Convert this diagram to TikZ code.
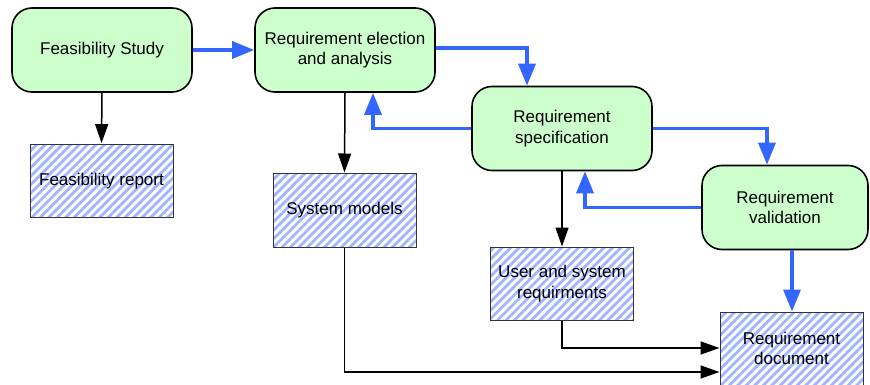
\documentclass[tikz,border=0pt]{standalone}
\usepackage{fontspec}
\setmainfont{Liberation Sans}
\usetikzlibrary{patterns.meta,arrows.meta}
\definecolor{boxgreen}{HTML}{CCFFCC}
\definecolor{flowblue}{HTML}{3366FF}
\definecolor{hatchblue}{HTML}{9FB5FF}
\tikzset{
  process/.style={draw=black,line width=1.6pt,fill=boxgreen,rounded corners=20pt,
    minimum width=180pt,minimum height=84pt,align=center,inner sep=0pt,
    font=\fontsize{17}{20.5}\selectfont},
  docbox/.style={draw=black!80,line width=1pt,
    pattern={Lines[angle=45,distance=6pt,line width=2.8pt]},pattern color=hatchblue,
    minimum width=143pt,minimum height=73pt,align=center,inner sep=0pt,
    font=\fontsize{17}{20.5}\selectfont},
  bluearrow/.style={draw=flowblue,line width=3.4pt,-{Triangle[length=22pt,width=17pt]}},
  blackarrow/.style={draw=black,line width=1.5pt,-{Triangle[length=19pt,width=13pt]}}
}
\begin{document}
\begin{tikzpicture}[x=1pt,y=-1pt]
\useasboundingbox (0,0) rectangle (870,385);
\node[process] (fs) at (102,50) {Feasibility Study};
\node[process] (rea) at (345,50) {Requirement election\\and analysis};
\node[process] (rs) at (562,128.5) {Requirement\\specification};
\node[process,minimum width=166pt] (rv) at (785,207.5) {Requirement\\validation};
\node[docbox] (fr) at (101.5,181) {Feasibility report};
\node[docbox,minimum height=74pt] (sm) at (344.5,210) {System models};
\node[docbox] (us) at (562,283.5) {User and system\\requirments};
\node[docbox] (rd) at (791.5,348.5) {Requirement\\document};
% blue flow
\draw[bluearrow] (fs.east) -- (rea.west);
\draw[bluearrow] ([yshift=2pt]rea.east) -| ([xshift=-35pt]rs.north);
\draw[bluearrow] (rs.west) -| ([xshift=28pt]rea.south);
\draw[bluearrow] (rs.east) -| ([xshift=-18pt]rv.north);
\draw[bluearrow] (rv.west) -| ([xshift=23pt]rs.south);
\draw[bluearrow] ([xshift=7pt]rv.south) -- ([xshift=0.5pt]rd.north);
% black flow
\draw[blackarrow] (fs.south) -- (fr.north);
\draw[blackarrow] (rea.south) -- (sm.north);
\draw[blackarrow] (rs.south) -- (us.north);
\draw[blackarrow] (us.south) |- ([yshift=0.5pt]rd.west);
\draw[blackarrow] (sm.south) |- ([yshift=-23.5pt]rd.west);
\end{tikzpicture}
\end{document}
